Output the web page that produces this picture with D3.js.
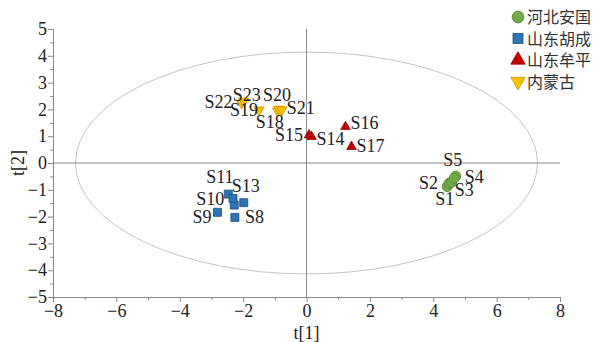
<!DOCTYPE html>
<html>
<head>
<meta charset="utf-8">
<script src="https://cdn.jsdelivr.net/npm/d3@7"></script>
<style>
  body { margin: 0; background: #fff; }
  svg { display: block; }
</style>
</head>
<body>
<div id="chart"></div>
<script>
// Groups (legend order)
const groups = ['河北安国', '山东胡成', '山东牟平', '内蒙古'];

// Scores per group: sample names, t[1], t[2]
const hebeiNames = ['S1', 'S2', 'S3', 'S4', 'S5'];
const hebeiT1 = [4.44, 4.50, 4.58, 4.71, 4.66];
const hebeiT2 = [-0.88, -0.76, -0.72, -0.49, -0.57];

const hucNames = ['S8', 'S9', 'S10', 'S11', 'S12', 'S13'];
const hucT1 = [-2.26, -2.81, -2.28, -2.47, -2.32, -1.98];
const hucT2 = [-2.03, -1.84, -1.57, -1.16, -1.32, -1.48];

const mupNames = ['S14', 'S15', 'S16', 'S17'];
const mupT1 = [0.16, 0.08, 1.23, 1.42];
const mupT2 = [0.98, 1.04, 1.35, 0.61];

const nmgNames = ['S18', 'S19', 'S20', 'S21', 'S22', 'S23'];
const nmgT1 = [-0.91, -1.50, -0.87, -0.78, -2.05, -1.98];
const nmgT2 = [1.94, 1.98, 2.01, 1.98, 2.24, 2.31];

// Axis ticks and Hotelling ellipse radii
const xTicks = [-8, -6, -4, -2, 0, 2, 4, 6, 8];
const yTicks = [-5, -4, -3, -2, -1, 0, 1, 2, 3, 4, 5];
const ellipseRx = 7.29;
const ellipseRy = 4.14;

// Label placement (pixel offset of text start / baseline from point)
const labelOffset = {
  S1: [-12, 18], S2: [-30, 6], S3: [3, 14], S4: [9, 7], S5: [-11, -12],
  S8: [10, 6], S9: [-25, 11], S10: [-38, 0], S11: [-22, -11], S13: [-12, -11],
  S14: [5, 8], S15: [-34, 6], S16: [5, 2], S17: [5, 5],
  S18: [-22, 17], S19: [-29, 6], S20: [-16, -8], S21: [5, 4], S22: [-37, 5], S23: [-11, 0]
};

const serif = '"Liberation Serif"';

const styles = [
  { symbol: d3.symbolCircle, size: 80, fill: '#70ad47', stroke: '#548235', rotate: 0 },
  { symbol: d3.symbolSquare, size: 64, fill: '#2e75b6', stroke: '#1f4e79', rotate: 0 },
  { symbol: d3.symbolTriangle, size: 40, fill: '#c00000', stroke: '#a00000', rotate: 0 },
  { symbol: d3.symbolTriangle, size: 48, fill: '#ffc000', stroke: '#c99700', rotate: 180 }
];

const points = [];
[[hebeiNames, hebeiT1, hebeiT2], [hucNames, hucT1, hucT2],
 [mupNames, mupT1, mupT2], [nmgNames, nmgT1, nmgT2]].forEach(([n, a, b], g) => {
  n.forEach((name, i) => points.push({ name, t1: a[i], t2: b[i], g }));
});

const width = 595, height = 342;
const svg = d3.select('#chart').append('svg').attr('width', width).attr('height', height);

const x = d3.scaleLinear().domain([-8, 8]).range([53, 560]);
const y = d3.scaleLinear().domain([-5, 5]).range([297, 29]);

// Ellipse
svg.append('ellipse')
  .attr('cx', x(0)).attr('cy', y(0))
  .attr('rx', x(ellipseRx) - x(0)).attr('ry', y(0) - y(ellipseRy))
  .attr('fill', 'none').attr('stroke', '#c4c4c4').attr('stroke-width', 1);

// Zero lines
svg.append('line').attr('x1', x(-8)).attr('x2', x(8)).attr('y1', y(0)).attr('y2', y(0))
  .attr('stroke', '#8a8a8a').attr('stroke-width', 1);
svg.append('line').attr('x1', x(0)).attr('x2', x(0)).attr('y1', y(5)).attr('y2', y(-5))
  .attr('stroke', '#8a8a8a').attr('stroke-width', 1);

// Minor ticks
const xAxisMinor = d3.axisBottom(x).tickValues(d3.range(-7, 8, 2)).tickSize(3).tickFormat('');
const yAxisMinor = d3.axisLeft(y).tickValues(d3.range(-4.5, 5, 1)).tickSize(3).tickFormat('');
svg.append('g').attr('transform', `translate(0,${y(-5)})`).call(xAxisMinor);
svg.append('g').attr('transform', `translate(${x(-8)},0)`).call(yAxisMinor);

const fmt = d => (d < 0 ? '\u2212' + Math.abs(d) : '' + d);
const xAxis = d3.axisBottom(x).tickValues(xTicks).tickSize(5).tickPadding(2).tickFormat(fmt);
const yAxis = d3.axisLeft(y).tickValues(yTicks).tickSize(5).tickPadding(1).tickFormat(fmt);
svg.append('g').attr('class', 'ax').attr('transform', `translate(0,${y(-5)})`).call(xAxis);
svg.append('g').attr('class', 'ax').attr('transform', `translate(${x(-8)},0)`).call(yAxis);

svg.selectAll('.ax').attr('font-family', null).attr('font-size', null);
svg.selectAll('.domain, .tick line').attr('stroke', '#8a8a8a');
svg.selectAll('.tick text')
  .style('font-family', serif).style('font-size', '18px').attr('fill', '#222');

// Axis titles
svg.append('text').attr('x', x(0)).attr('y', 339)
  .style('font-family', serif).style('font-size', '18px').attr('fill', '#222')
  .attr('text-anchor', 'middle').text('t[1]');
svg.append('text')
  .attr('transform', `translate(24,${y(0)}) rotate(-90)`)
  .style('font-family', serif).style('font-size', '18px').attr('fill', '#222')
  .attr('text-anchor', 'middle').text('t[2]');

// Points
svg.append('g').selectAll('path').data(points).join('path')
  .attr('d', d => d3.symbol().type(styles[d.g].symbol).size(styles[d.g].size)())
  .attr('transform', d => `translate(${x(d.t1)},${y(d.t2)}) rotate(${styles[d.g].rotate})`)
  .attr('fill', d => styles[d.g].fill)
  .attr('stroke', d => styles[d.g].stroke).attr('stroke-width', 0.8);

// Sample labels
svg.append('g').selectAll('text').data(points.filter(d => labelOffset[d.name])).join('text')
  .style('font-family', serif).style('font-size', '18px').attr('fill', '#222')
  .attr('x', d => x(d.t1) + labelOffset[d.name][0])
  .attr('y', d => y(d.t2) + labelOffset[d.name][1])
  .text(d => d.name);

// Legend
const legend = svg.append('g').selectAll('g').data(groups).join('g')
  .attr('transform', (d, i) => `translate(518,${17 + i * 21.5})`);
legend.append('path')
  .attr('d', (d, i) => d3.symbol().type(styles[i].symbol).size(i === 0 ? 110 : i === 1 ? 100 : 90)())
  .attr('transform', (d, i) => `rotate(${styles[i].rotate})`)
  .attr('fill', (d, i) => styles[i].fill)
  .attr('stroke', (d, i) => styles[i].stroke).attr('stroke-width', 0.8);
legend.append('text').attr('x', 9).attr('y', 6)
  .style('font-family', '"Noto Sans CJK SC"').style('font-size', '16px')
  .attr('fill', '#333').text(d => d);
</script>
</body>
</html>
